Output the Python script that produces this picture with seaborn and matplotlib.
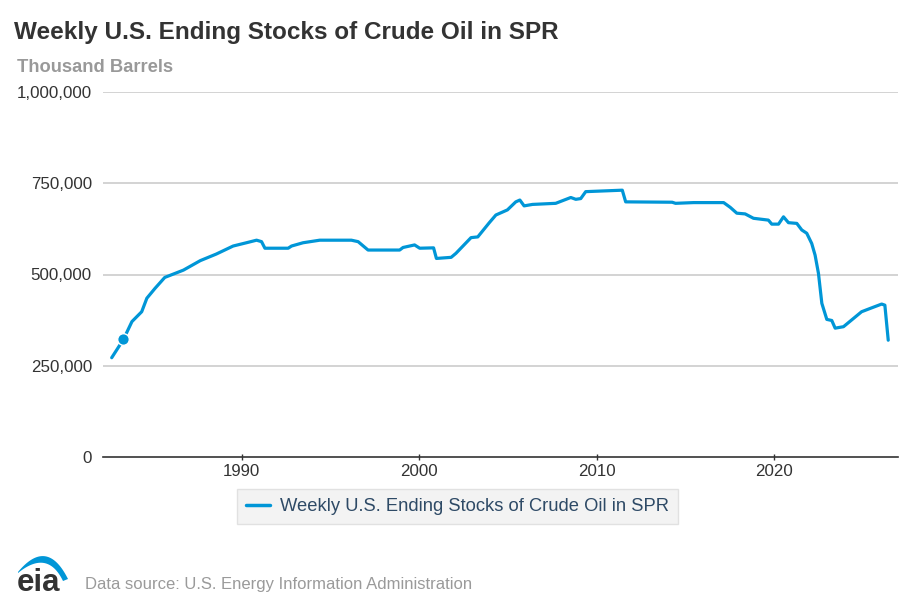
import numpy as np
import pandas as pd
import matplotlib
matplotlib.use("Agg")
import matplotlib.pyplot as plt
import seaborn as sns

# ---- data ----
years = [1982.68, 1983.34, 1983.82, 1984.37, 1984.66, 1985.12, 1985.67, 1986.72,
         1987.67, 1988.57, 1989.52, 1990.27, 1990.84, 1991.12, 1991.31, 1992.62,
         1992.81, 1993.46, 1994.40, 1996.18, 1996.56, 1997.12, 1998.90, 1999.09,
         1999.74, 2000.03, 2000.81, 2000.97, 2001.80, 2002.07, 2002.92, 2003.30,
         2003.95, 2004.32, 2004.97, 2005.44, 2005.67, 2005.91, 2006.38, 2007.69,
         2008.54, 2008.82, 2009.10, 2009.38, 2011.44, 2011.63, 2014.25, 2014.44,
         2015.46, 2017.15, 2017.52, 2017.89, 2018.36, 2018.83, 2019.67, 2019.86,
         2020.24, 2020.52, 2020.80, 2021.27, 2021.55, 2021.83, 2022.11, 2022.30,
         2022.49, 2022.68, 2022.96, 2023.24, 2023.43, 2023.90, 2024.92, 2025.40,
         2026.05, 2026.23, 2026.42]
stocks = [272000, 322000, 371000, 398000, 435000, 462000, 492000, 512000,
          538000, 556000, 578000, 587000, 594000, 590000, 572000, 572000,
          578000, 587000, 594000, 594000, 590000, 567000, 567000, 574000,
          581000, 572000, 573000, 544000, 547000, 558000, 601000, 603000,
          642000, 663000, 677000, 699000, 704000, 688000, 692000, 695000,
          711000, 706000, 708000, 727000, 731000, 699000, 698000, 695000,
          697000, 697000, 684000, 668000, 666000, 654000, 649000, 638000,
          638000, 658000, 642000, 640000, 622000, 613000, 585000, 553000,
          503000, 421000, 377000, 374000, 353000, 357000, 398000, 407000,
          419000, 416000, 320000]
highlight_year = [1983.34]
highlight_value = [322000]

series_name = "Weekly U.S. Ending Stocks of Crude Oil in SPR"
title = "Weekly U.S. Ending Stocks of Crude Oil in SPR"
y_unit = "Thousand Barrels"
y_ticks = [0, 250000, 500000, 750000, 1000000]
x_ticks = [1990, 2000, 2010, 2020]
source = "Data source: U.S. Energy Information Administration"

df = pd.DataFrame({"year": years, "stocks": stocks, "series": series_name})

sns.set_theme(style="white")
plt.rcParams["font.family"] = ["Liberation Sans", "DejaVu Sans"]

W, H = 914, 609
fig = plt.figure(figsize=(W / 100, H / 100), dpi=100)
ax = fig.add_axes([103 / W, 1 - 457 / H, (898 - 103) / W, (457 - 92) / H])

line_color = "#0096d7"
sns.lineplot(data=df, x="year", y="stocks", hue="series", palette=[line_color],
             linewidth=2.3, ax=ax, estimator=None, sort=False)
ax.scatter(highlight_year, highlight_value, s=70, color=line_color,
           edgecolor="white", linewidth=1, zorder=5)

ax.set_xlim(1982.19, 2026.97)
ax.set_ylim(0, 1000000)
ax.set_yticks(y_ticks)
ax.set_yticklabels([f"{v:,}" for v in y_ticks])
ax.set_xticks(x_ticks)
ax.set_xticklabels([str(v) for v in x_ticks])
ax.set_xlabel("")
ax.set_ylabel("")

for v in y_ticks[1:]:
    ax.axhline(v, color="#c8c8c8", linewidth=1.1, zorder=0)
for s in ["top", "right", "left"]:
    ax.spines[s].set_visible(False)
ax.spines["bottom"].set_color("#333333")
ax.spines["bottom"].set_linewidth(1.2)
ax.tick_params(axis="x", length=4, width=1, color="#333333", direction="inout",
               labelsize=12.2, labelcolor="#333333", pad=3, bottom=True)
ax.tick_params(axis="y", length=0, labelsize=12.2, labelcolor="#333333", pad=8)

leg = ax.legend(loc="center", bbox_to_anchor=(457.5 / W, 1 - 506.5 / H),
                bbox_transform=fig.transFigure, frameon=True, fancybox=False,
                facecolor="#f0f0f0", edgecolor="#dcdcdc", fontsize=13.2,
                handlelength=1.3, handletextpad=0.55, borderpad=0.5)
for t in leg.get_texts():
    t.set_color("#2e4a66")
for l in leg.get_lines():
    l.set_linewidth(2.5)
leg.get_frame().set_linewidth(1)

fig.text(14 / W, 1 - 32 / H, title, fontsize=17.5, fontweight="bold",
         color="#333333", va="center", ha="left")
fig.text(17 / W, 1 - 67 / H, y_unit, fontsize=13.2, fontweight="bold",
         color="#999999", va="center", ha="left")
fig.text(85 / W, 1 - 584 / H, source, fontsize=12.0, color="#9a9a9a",
         va="center", ha="left")

# eia logo
fig.text(17 / W, 1 - 591 / H, "eia", fontsize=22.5, fontweight="bold",
         color="#333333", va="baseline", ha="left")
lax = fig.add_axes([10 / W, 1 - 595 / H, 65 / W, 47 / H])
lax.set_xlim(10, 75)
lax.set_ylim(595, 548)
lax.axis("off")
t = np.linspace(0, 1, 80)
def bez(p0, p1, p2):
    p0, p1, p2 = map(np.array, (p0, p1, p2))
    return ((1 - t) ** 2)[:, None] * p0 + (2 * (1 - t) * t)[:, None] * p1 + (t ** 2)[:, None] * p2
outer = bez((18, 572), (47, 537), (68, 579))
inner = bez((18, 573), (47.5, 549), (63, 581))
poly = np.vstack([outer, inner[::-1]])
lax.fill(poly[:, 0], poly[:, 1], color="#0096d7", lw=0)

fig.savefig("out.png", dpi=100)
